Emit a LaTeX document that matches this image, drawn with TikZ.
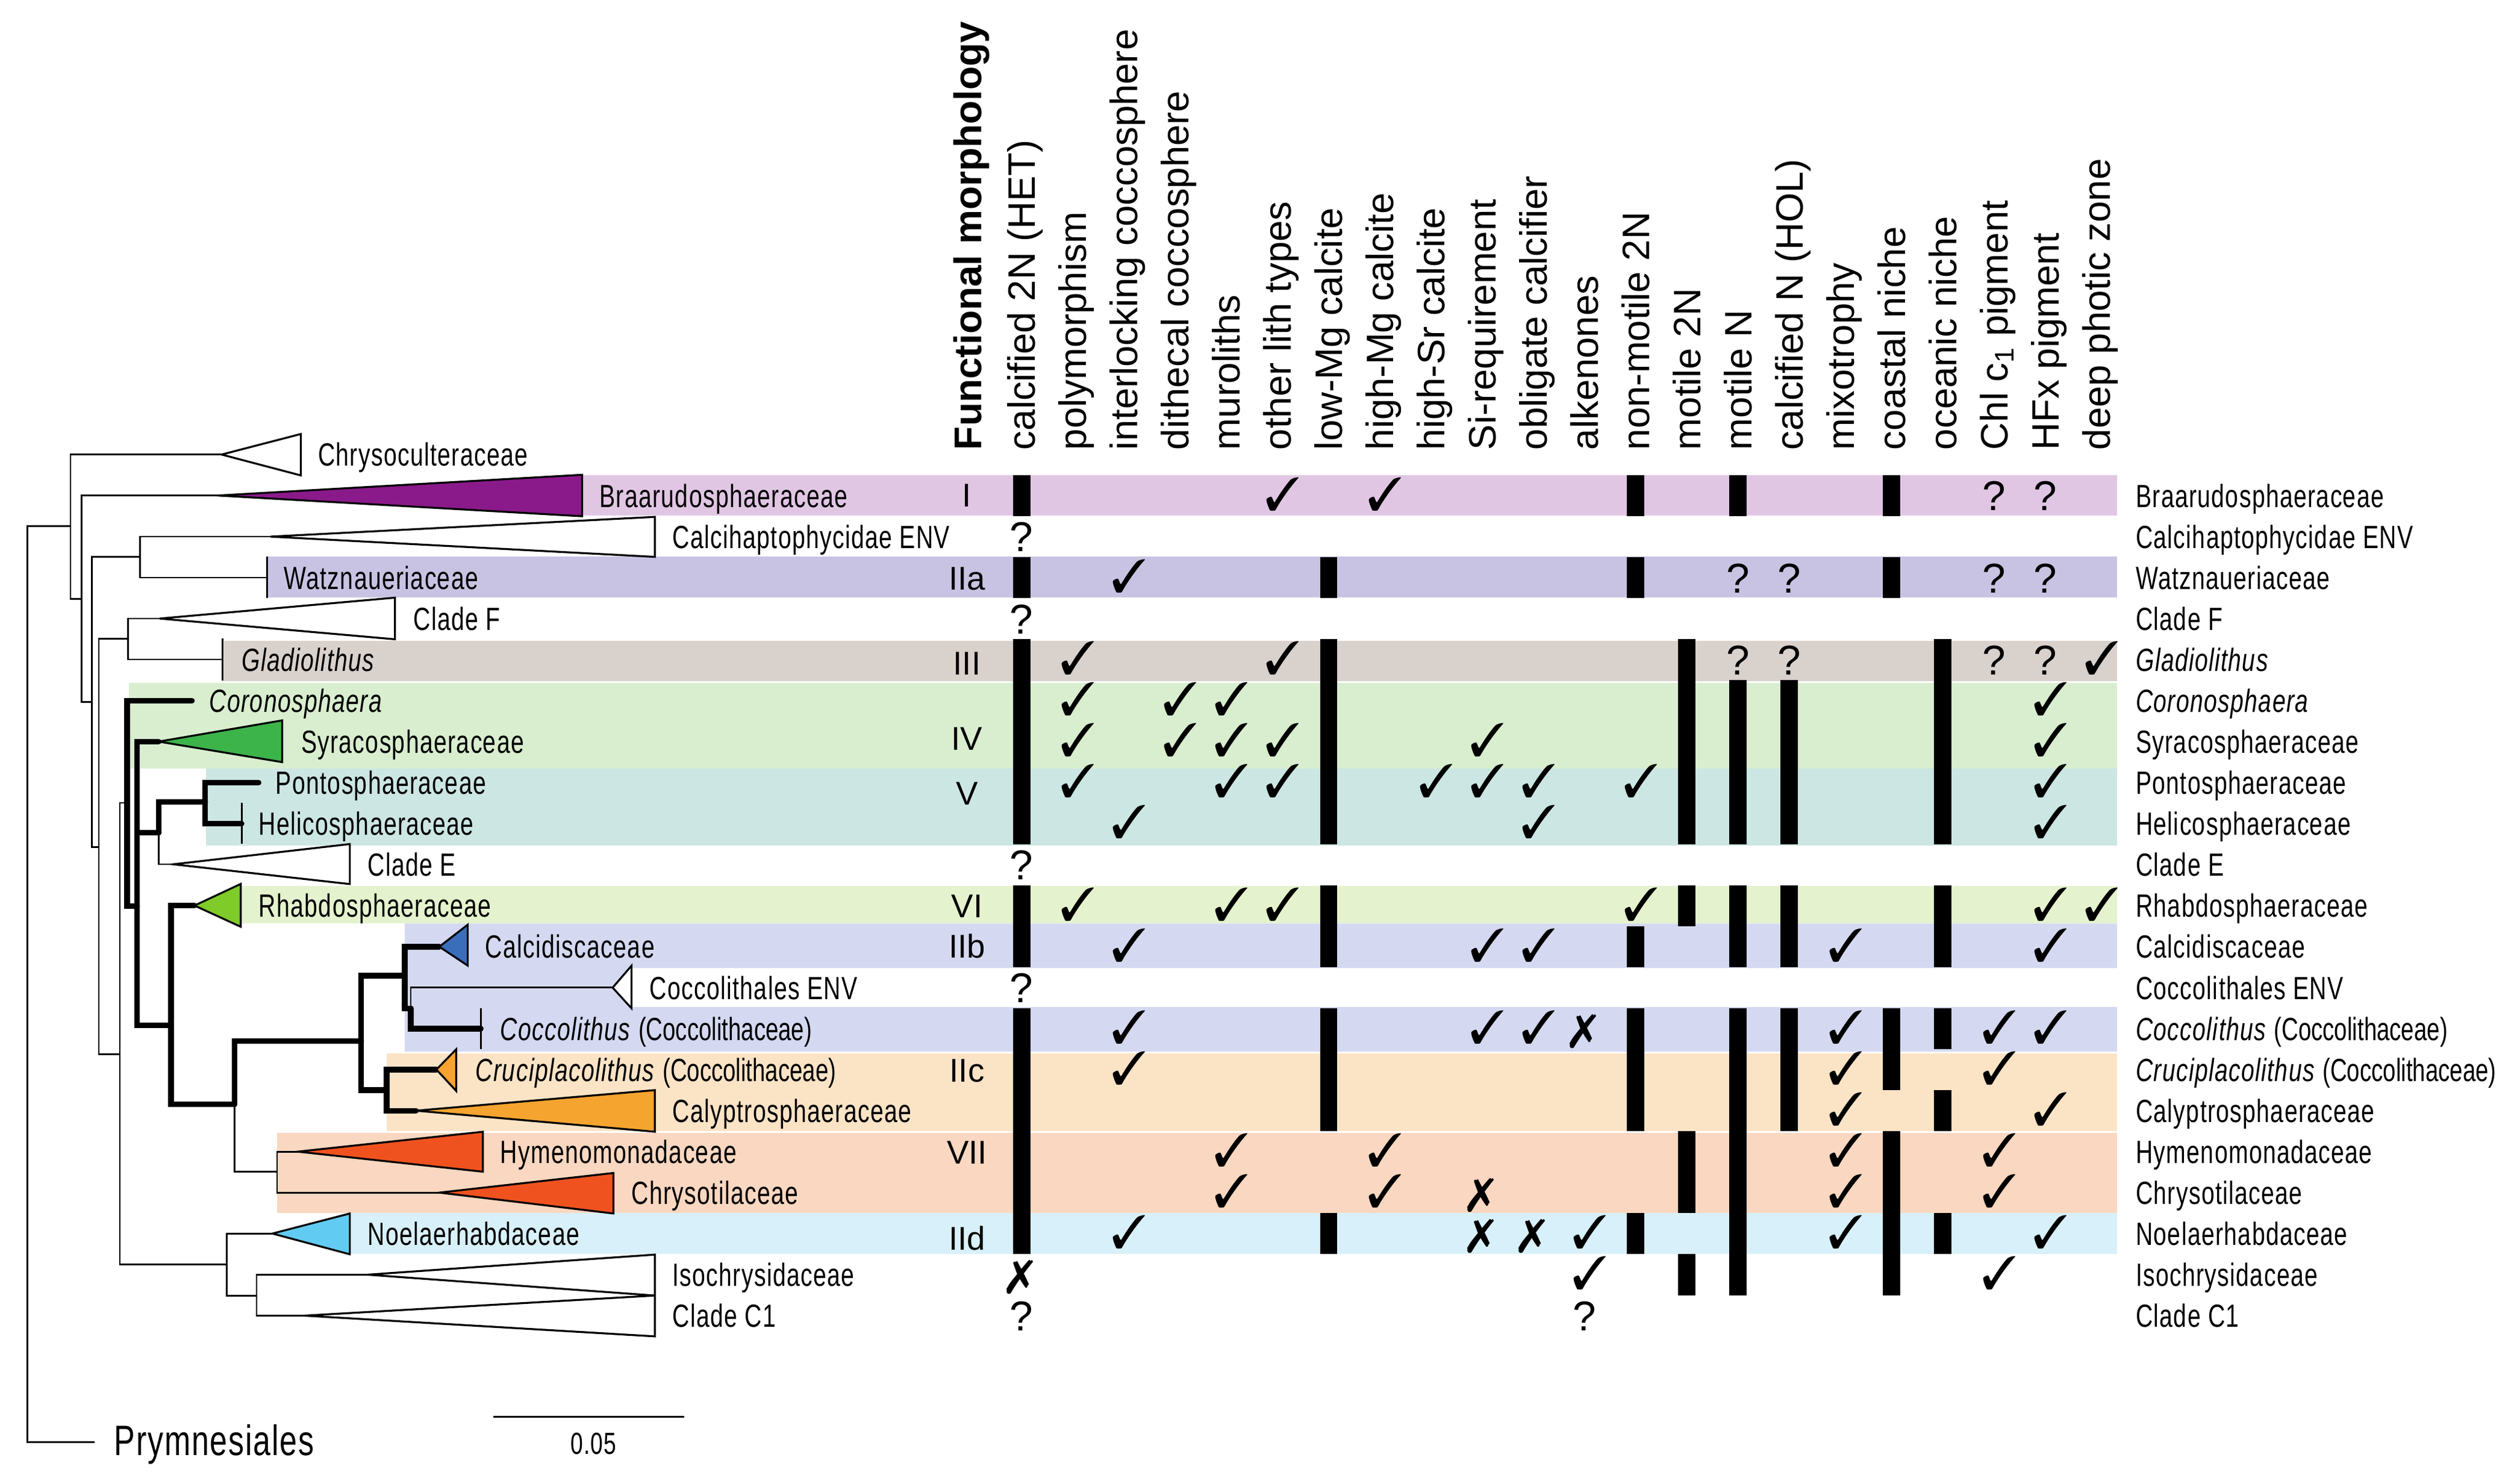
\documentclass[tikz,border=0pt]{standalone}
\usepackage{fontspec}
\setmainfont{Liberation Sans}
\newfontfamily\labfont[FakeStretch=0.735,LetterSpace=2.5]{Liberation Sans}
\newfontfamily\parfont[FakeStretch=0.72]{Liberation Sans}
\usepackage{pifont}
\definecolor{bI}{HTML}{E1C6E4}
\definecolor{bIIa}{HTML}{C9C3E3}
\definecolor{bIII}{HTML}{D9D1CC}
\definecolor{bIV}{HTML}{D8EECF}
\definecolor{bV}{HTML}{CCE6E3}
\definecolor{bVI}{HTML}{E4F2CE}
\definecolor{bIIb}{HTML}{D4D9F1}
\definecolor{bIIc}{HTML}{FBE3C6}
\definecolor{bVII}{HTML}{F9D7C0}
\definecolor{bIId}{HTML}{D8F0F9}
\definecolor{tPur}{HTML}{8A1A8A}
\definecolor{tSyr}{HTML}{3CB44A}
\definecolor{tRh}{HTML}{7FCB2A}
\definecolor{tCd}{HTML}{3A6DBA}
\definecolor{tOr}{HTML}{F5A42F}
\definecolor{tRed}{HTML}{F0521F}
\definecolor{tNo}{HTML}{62CBF1}
\newcommand\famtag[1]{{\parfont (#1)}}
\begin{document}
\begin{tikzpicture}[x=1pt,y=-1pt,
  br/.style={line width=1.05pt, line cap=rect, line join=miter},
  thk/.style={line width=3.5pt, line cap=round, line join=miter},
  tri/.style={draw, line width=1.2pt, line join=miter},
  tick/.style={line width=1.05pt},
  lab/.style={anchor=base west, inner sep=0pt, font=\labfont\fontsize{20}{20}\selectfont},
  hdr/.style={anchor=base west, inner sep=0pt, rotate=90, font=\fontsize{23.8}{23.8}\selectfont},
  num/.style={anchor=base, inner sep=0pt, font=\fontsize{20.5}{20.5}\selectfont},
  qmark/.style={anchor=base, inner sep=0pt, font=\fontsize{26}{26}\selectfont},
  ckm/.style={inner sep=0pt, font=\fontsize{29}{29}\selectfont},
  barfill/.style={fill=black}
  ]
\useasboundingbox (0,0) rectangle (1567,923.6);
% ---------- coloured bands ----------
\fill[bI] (362.4,295.8) rectangle (1318,321.0);
\fill[bIIa] (166.2,346.4) rectangle (1318,372.0);
\fill[bIII] (139.4,399.1) rectangle (1318,424.2);
\fill[bIV] (80.2,425.2) rectangle (1318,478.3);
\fill[bV] (128.1,478.3) rectangle (1318,526.3);
\fill[bVI] (150.4,551.4) rectangle (1318,575.0);
\fill[bIIb] (252,575) -- (1318,575) -- (1318,602.7) -- (393.2,602.7) -- (393.2,627) -- (1318,627) -- (1318,654.7) -- (252,654.7) -- cycle;
\fill[bIIc] (240.7,655.7) rectangle (1318,704.1);
\fill[bVII] (172.5,705.4) rectangle (1318,755.2);
\fill[bIId] (217.8,755.2) rectangle (1318,780.6);
% ---------- tree coordinates ----------
\coordinate (root) at (17.1,600);
\coordinate (nA) at (43.9,327.5);
\coordinate (tPry) at (58.4,898);
\coordinate (aChr) at (138,283);
\coordinate (nB) at (50.8,372.9);
\coordinate (aBra) at (135.5,308.5);
\coordinate (nC) at (57.3,437);
\coordinate (nD) at (87.3,346.7);
\coordinate (aCal) at (168.3,334.1);
\coordinate (tWat) at (166.2,359.6);
\coordinate (nE) at (61.5,527.5);
\coordinate (nF) at (79.7,397.8);
\coordinate (aCF) at (99.4,385.1);
\coordinate (tGla) at (138.6,410.6);
\coordinate (nG) at (74.6,656.3);
\coordinate (nH) at (79.1,499.8);
\coordinate (tCor) at (119.5,436.2);
\coordinate (nI) at (85.4,564.1);
\coordinate (aSyr) at (98.7,461.7);
\coordinate (nJ) at (98.9,518.4);
\coordinate (nL) at (127.8,499.2);
\coordinate (tPon) at (161,487.2);
\coordinate (tHel) at (150.4,512.8);
\coordinate (aCE) at (107.8,538.1);
\coordinate (nK) at (106.5,638.4);
\coordinate (aRh) at (121.1,563.8);
\coordinate (nM) at (146,687.6);
\coordinate (nN) at (224.9,648.2);
\coordinate (nO) at (252,607.5);
\coordinate (aCd) at (273.5,589.4);
\coordinate (nP) at (255.7,627.8);
\coordinate (aENV) at (381.4,614.9);
\coordinate (tCoc) at (299.3,640.4);
\coordinate (nQ) at (240.7,678.7);
\coordinate (aCr) at (271.7,665.9);
\coordinate (aCa) at (259,691.5);
\coordinate (nR) at (172.5,729.5);
\coordinate (aHy) at (185.4,717);
\coordinate (aCh) at (273.5,742.5);
\coordinate (nS) at (141.2,787.2);
\coordinate (aNo) at (169.6,768);
\coordinate (nT) at (159.7,806.6);
\coordinate (aIs) at (228.8,793.6);
\coordinate (aC1) at (189.4,819.1);
% ---------- thin branches ----------
\draw[br] (root) |- (nA);
\draw[br] (root) |- (tPry);
\draw[br] (nA) |- (aChr);
\draw[br] (nA) |- (nB);
\draw[br] (nB) |- (aBra);
\draw[br] (nB) |- (nC);
\draw[br] (nC) |- (nD);
\draw[br] (nC) |- (nE);
\draw[br] (nD) |- (aCal);
\draw[br] (nD) |- (tWat);
\draw[br] (nE) |- (nF);
\draw[br] (nE) |- (nG);
\draw[br] (nF) |- (aCF);
\draw[br] (nF) |- (tGla);
\draw[br] (nG) |- (nH);
\draw[br] (nG) |- (nS);
\draw[br] (nJ) |- (aCE);
\draw[br] (nP) |- (aENV);
\draw[br] (nM) |- (nR);
\draw[br] (nR) |- (aHy);
\draw[br] (nR) |- (aCh);
\draw[br] (nS) |- (aNo);
\draw[br] (nS) |- (nT);
\draw[br] (nT) |- (aIs);
\draw[br] (nT) |- (aC1);
% ticks
\draw[tick] (166.2,346.3) -- (166.2,372.5);
\draw[tick] (138.6,397.4) -- (138.6,423.8);
\draw[tick] (150.4,499.7) -- (150.4,525.5);
\draw[tick] (299.3,627.8) -- (299.3,653.3);
% ---------- thick branches ----------
\draw[thk] (nH) |- (tCor);
\draw[thk] (nH) |- (nI);
\draw[thk] (nI) |- (aSyr);
\draw[thk] (nI) |- (nJ);
\draw[thk] (nI) |- (nK);
\draw[thk] (nJ) |- (nL);
\draw[thk] (nL) |- (tPon);
\draw[thk] (nL) |- (tHel);
\draw[thk] (nK) |- (aRh);
\draw[thk] (nK) |- (nM);
\draw[thk] (nM) |- (nN);
\draw[thk] (nN) |- (nO);
\draw[thk] (nN) |- (nQ);
\draw[thk] (nO) |- (aCd);
\draw[thk] (nO) |- (nP);
\draw[thk] (nP) |- (tCoc);
\draw[thk] (nQ) |- (aCr);
\draw[thk] (nQ) |- (aCa);
% ---------- collapsed clades ----------
\draw[tri, fill=white] (aChr) -- (187.3,270.2) -- (187.3,296) -- cycle;
\draw[tri, fill=tPur] (aBra) -- (362.4,295.6) -- (362.4,321.4) -- cycle;
\draw[tri, fill=white] (aCal) -- (407.7,321.8) -- (407.7,346.7) -- cycle;
\draw[tri, fill=white] (aCF) -- (245.9,372.1) -- (245.9,398) -- cycle;
\draw[tri, fill=tSyr] (aSyr) -- (175.7,448.5) -- (175.7,474.5) -- cycle;
\draw[tri, fill=white] (aCE) -- (217.8,525.5) -- (217.8,550.4) -- cycle;
\draw[tri, fill=tRh] (aRh) -- (149.9,550.3) -- (149.9,577) -- cycle;
\draw[tri, fill=tCd] (aCd) -- (291.2,575.7) -- (291.2,601.2) -- cycle;
\draw[tri, fill=white] (aENV) -- (393.2,601.2) -- (393.2,627.8) -- cycle;
\draw[tri, fill=tOr] (aCr) -- (284,653.3) -- (284,679.2) -- cycle;
\draw[tri, fill=tOr] (aCa) -- (407.7,678.7) -- (407.7,704.6) -- cycle;
\draw[tri, fill=tRed] (aHy) -- (300.6,704.6) -- (300.6,729.5) -- cycle;
\draw[tri, fill=tRed] (aCh) -- (381.9,730.3) -- (381.9,755.5) -- cycle;
\draw[tri, fill=tNo] (aNo) -- (217.8,755.5) -- (217.8,780.9) -- cycle;
\draw[tri, fill=white] (aIs) -- (407.7,781.1) -- (407.7,806.6) -- cycle;
\draw[tri, fill=white] (aC1) -- (407.7,806.6) -- (407.7,832) -- cycle;
% ---------- tree labels ----------
\foreach \x/\i/\t [count=\n] in {
  197.8/0/Chrysoculteraceae,
  373/1/Braarudosphaeraceae,
  418.5/2/Calcihaptophycidae ENV,
  176.7/3/Watznaueriaceae,
  257.2/4/Clade F,
  150.4/5/\textit{Gladiolithus},
  130.2/6/\textit{Coronosphaera},
  187.3/7/Syracosphaeraceae,
  171.5/8/Pontosphaeraceae,
  161/9/Helicosphaeraceae,
  228.8/10/Clade E,
  161/11/Rhabdosphaeraceae,
  302/12/Calcidiscaceae,
  404.3/13/Coccolithales ENV,
  311.2/14/\textit{Coccolithus} \famtag{Coccolithaceae},
  296/15/\textit{Cruciplacolithus} \famtag{Coccolithaceae},
  418.5/16/Calyptrosphaeraceae,
  311.2/17/Hymenomonadaceae,
  393/18/Chrysotilaceae,
  228.8/19/Noelaerhabdaceae,
  418.5/20/Isochrysidaceae,
  418.5/21/Clade C1}
  \node[lab] (tl\n) at ({\x},{283+25.53*\i+7.2}) {\t};
% ---------- right labels ----------
\foreach \i/\t [count=\n] in {
  1/Braarudosphaeraceae,
  2/Calcihaptophycidae ENV,
  3/Watznaueriaceae,
  4/Clade F,
  5/\textit{Gladiolithus},
  6/\textit{Coronosphaera},
  7/Syracosphaeraceae,
  8/Pontosphaeraceae,
  9/Helicosphaeraceae,
  10/Clade E,
  11/Rhabdosphaeraceae,
  12/Calcidiscaceae,
  13/Coccolithales ENV,
  14/\textit{Coccolithus} \famtag{Coccolithaceae},
  15/\textit{Cruciplacolithus} \famtag{Coccolithaceae},
  16/Calyptrosphaeraceae,
  17/Hymenomonadaceae,
  18/Chrysotilaceae,
  19/Noelaerhabdaceae,
  20/Isochrysidaceae,
  21/Clade C1}
  \node[lab] (rl\n) at (1329.5,{283+25.53*\i+7.2}) {\t};
% ---------- root label and scale ----------
\node[lab, font=\labfont\fontsize{26.5}{26.5}\selectfont] (pry) at (71,906) {Prymnesiales};
\coordinate (sb1) at (307,882);
\coordinate (sb2) at (426,882);
\draw[br, line cap=butt] (sb1) -- (sb2);
\node[anchor=base, inner sep=0pt, font=\labfont\fontsize{19}{19}\selectfont] (sbl) at (369.5,905.5) {0.05};
% ---------- headers ----------
\node[hdr, font=\bfseries\fontsize{24}{24}\selectfont] (hfm) at (611,280.3) {Functional morphology};
\foreach \k/\t in {
  0/calcified 2N (HET),
  1/polymorphism,
  2/interlocking coccosphere,
  3/dithecal coccosphere,
  4/muroliths,
  5/other lith types,
  6/low-Mg calcite,
  7/high-Mg calcite,
  8/high-Sr calcite,
  9/Si-requirement,
  10/obligate calcifier,
  11/alkenones,
  12/non-motile 2N,
  13/motile 2N,
  14/motile N,
  15/calcified N (HOL),
  16/mixotrophy,
  17/coastal niche,
  18/oceanic niche,
  19/Chl c\textsubscript{1} pigment,
  20/HFx pigment,
  21/deep photic zone}
  \node[hdr] (h\k) at ({636+31.86*\k+8.5},280.3) {\t};
% ---------- functional morphology groups ----------
\foreach \y/\t [count=\n] in {308.4/I, 359.8/IIa, 413/III, 459.7/IV, 493.9/V, 564.1/VI, 589.2/IIb, 666.3/IIc, 717.4/VII, 770.8/IId}
  \node[num] (g\n) at (602,{\y+7.3}) {\t};
% ---------- bars ----------
\foreach \k/\a/\b in {0/1/1, 0/3/3, 0/5/9, 0/11/12, 0/14/19,
  6/3/3, 6/5/9, 6/11/12, 6/14/16, 6/19/19,
  12/1/1, 12/3/3, 12/12/12, 12/14/16, 12/19/19,
  13/5/9, 13/11/11, 13/17/18, 13/20/20,
  14/1/1, 14/6/9, 14/11/12, 14/14/20,
  15/6/9, 15/11/12, 15/14/16,
  17/1/1, 17/3/3, 17/14/15, 17/17/20,
  18/5/9, 18/11/12, 18/14/14, 18/16/16, 18/19/19}
  \fill[barfill] ({636+31.86*\k-5.4},{283+25.53*\a-12.77}) rectangle ({636+31.86*\k+5.4},{283+25.53*\b+12.77});
% ---------- check marks ----------
\foreach \k/\i in {5/1, 7/1, 2/3, 1/5, 5/5, 21/5,
  1/6, 3/6, 4/6, 20/6,
  1/7, 3/7, 4/7, 5/7, 9/7, 20/7,
  1/8, 4/8, 5/8, 8/8, 9/8, 10/8, 12/8, 20/8,
  2/9, 10/9, 20/9,
  1/11, 4/11, 5/11, 12/11, 20/11, 21/11,
  2/12, 9/12, 10/12, 16/12, 20/12,
  2/14, 9/14, 10/14, 16/14, 19/14, 20/14,
  2/15, 16/15, 19/15,
  16/16, 20/16,
  4/17, 7/17, 16/17, 19/17,
  4/18, 7/18, 16/18, 19/18,
  2/19, 11/19, 16/19, 20/19,
  11/20, 19/20}
  \node[ckm] (ck\k-\i) at ({636+31.86*\k+3.3},{283+25.53*\i-0.9}) {\ding{51}};
% ---------- crosses ----------
\foreach \k/\i in {11/14, 9/18, 9/19, 10/19, 0/20}
  \node[ckm] (x\k-\i) at ({636+31.86*\k-1},{283+25.53*\i+1.7}) {\ding{55}};
% ---------- question marks ----------
\foreach \k/\i in {0/2, 0/4, 0/10, 0/13, 0/21, 11/21,
  19/1, 20/1, 14/3, 15/3, 19/3, 20/3, 14/5, 15/5, 19/5, 20/5}
  \node[qmark] (q\k-\i) at ({636+31.86*\k},{283+25.53*\i+9.4}) {?};
\end{tikzpicture}
\end{document}
